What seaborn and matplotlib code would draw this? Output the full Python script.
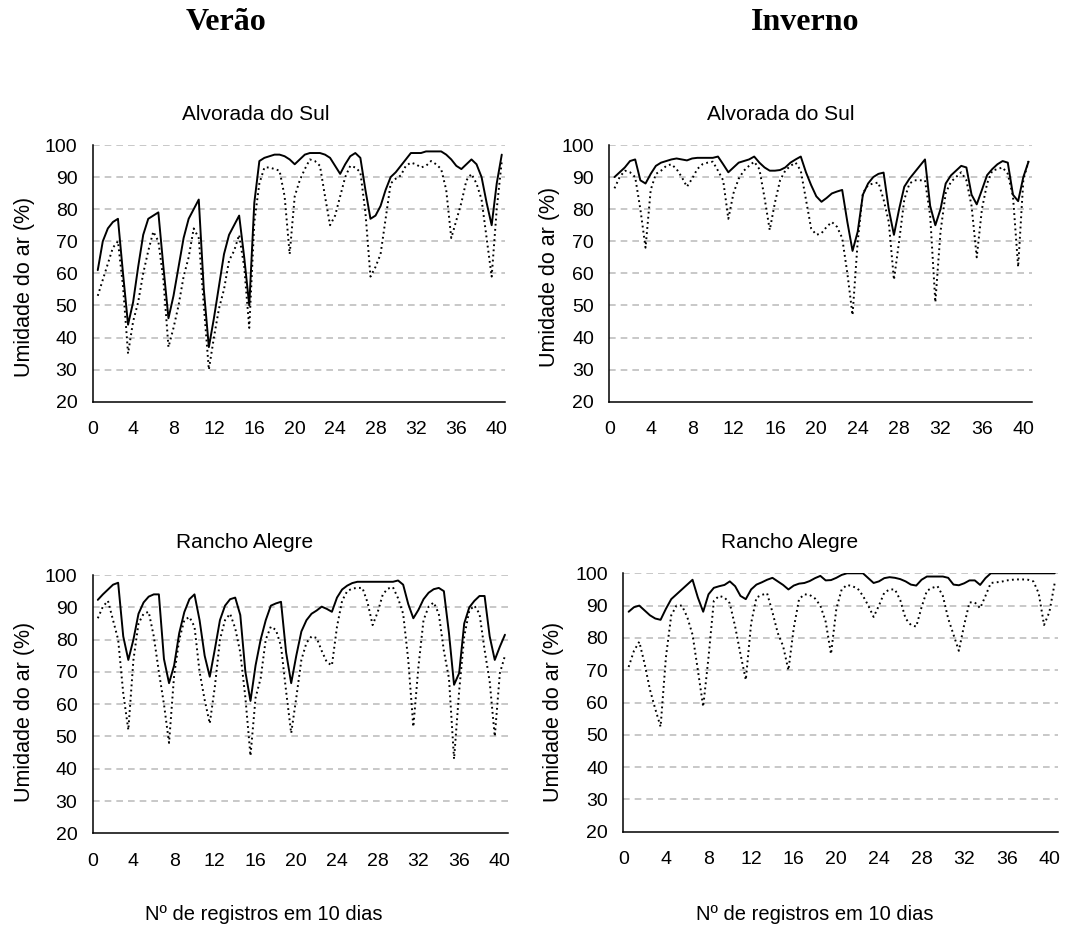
import numpy as np
import pandas as pd
import seaborn as sns
import matplotlib.pyplot as plt

sns.set_style("white")
plt.rcParams['font.family'] = ['Liberation Sans', 'DejaVu Sans']
plt.rcParams['lines.scale_dashes'] = False
plt.rcParams['text.color'] = 'black'

# registros (4 por dia, meio passo)
registros = np.arange(0.5, 40.51, 0.5)

# Verao - Alvorada do Sul
verao_alvorada_cheia = [
    61, 70, 74, 76, 77, 60, 44, 51, 62, 72,
    77, 78, 79, 62, 46, 53, 62, 71, 77, 80,
    83, 55, 37, 46, 56, 66, 72, 75, 78, 65,
    50, 82, 95, 96, 96.5, 97, 97, 96.5, 95.5, 94,
    95.5, 97, 97.5, 97.5, 97.5, 97, 96, 93.5, 91, 94,
    96.5, 97.5, 96, 86, 77, 78, 81, 86, 90, 91.5,
    93.5, 95.5, 97.5, 97.5, 97.5, 98, 98, 98, 98, 97,
    95.5, 93.5, 92.5, 94, 95.5, 94, 90, 82, 75, 88,
    97]
verao_alvorada_pont = [
    53, 58, 63, 68, 70, 56, 35, 45, 51, 60,
    67, 73, 70, 58, 37, 43, 50, 59, 65, 74,
    71, 50, 30, 40, 49, 55, 64, 67, 72, 62,
    43, 76, 88, 93, 93, 92.5, 92, 84, 66, 84,
    89, 92.5, 95.5, 95, 93.5, 84, 75, 78, 84, 90,
    93.5, 93, 91.5, 79, 59, 62, 66, 77, 88, 89.5,
    90.5, 93.5, 94.5, 94, 93, 93.5, 95, 94, 92.5, 86,
    71, 76.5, 82, 89, 91, 88, 83, 71, 59, 80,
    95]

# Inverno - Alvorada do Sul
inverno_alvorada_cheia = [
    90, 91.5, 93, 95, 95.5, 89, 88, 91, 93.5, 94.5,
    95, 95.5, 95.8, 95.5, 95.2, 95.8, 96, 96, 96, 96,
    96.4, 94, 91.5, 93, 94.5, 95, 95.5, 96.4, 94.5, 93,
    92, 92, 92.2, 93, 94.5, 95.5, 96.4, 91.5, 87.5, 84,
    82.3, 83.5, 84.9, 85.5, 86, 76, 67, 73, 84.5, 88,
    90, 91, 91.4, 80, 72, 80, 87, 89.5, 91.5, 93.5,
    95.5, 81, 75, 80, 88, 90.5, 92, 93.5, 93, 84.5,
    81.5, 86, 90.6, 92.5, 94, 95, 94.5, 84.5, 82.5, 90,
    94.8]
inverno_alvorada_pont = [
    86.5, 90, 92, 91.5, 90, 80, 68, 86, 91, 92,
    93.5, 94, 92.5, 90, 87, 89.5, 92.5, 94, 94.5, 94.8,
    92, 89, 77, 85, 89.5, 92, 93.5, 94.8, 92.5, 83.5,
    73.5, 82, 89, 92, 93.5, 94.5, 92, 83, 74, 72,
    72.5, 74.5, 76, 74.5, 71, 60, 47, 70, 85, 87.5,
    88, 88.3, 83, 76, 58, 70, 83, 88, 89, 89,
    89, 78, 51, 73, 85, 88.5, 90, 91.5, 89, 81,
    65, 80, 88, 92, 92.5, 93, 91, 84, 62, 89,
    95]

# Verao - Rancho Alegre
verao_rancho_cheia = [
    92.3, 94, 95.5, 97, 97.6, 81, 73.7, 80, 88, 91.5,
    93.3, 94, 94, 74, 66.5, 72, 82, 88.5, 92.5, 94,
    86, 75, 68.5, 77, 86, 90.5, 92.5, 93, 87.6, 70,
    61, 72, 80, 86, 90.5, 91.2, 91.7, 76, 66.5, 75,
    82.5, 86, 88, 89, 90.2, 89.5, 88.6, 93, 95.5, 96.7,
    97.5, 97.9, 97.9, 97.9, 97.9, 97.9, 97.9, 97.9, 97.9, 98.3,
    97, 91, 86.6, 89.2, 92.5, 94.5, 95.6, 96, 95, 82,
    66, 69.6, 85, 90, 92, 93.5, 93.5, 81, 73.7, 77.8,
    81.5]
verao_rancho_pont = [
    86.6, 90.2, 92, 86, 80, 63.4, 52, 73.7, 85, 88,
    88.6, 81, 70, 60, 48, 69, 80, 86, 87, 84,
    70, 61.3, 54, 65.4, 80, 86, 88, 83.5, 76, 62,
    44, 62, 68, 80, 84, 83, 78, 64, 51, 62,
    73.7, 79, 81, 80.5, 76.5, 73, 72, 84, 92, 95,
    95.8, 96, 96, 91.5, 84.5, 88.5, 94, 95.8, 96.2, 92.8,
    88, 73.7, 53, 71.6, 86, 90.2, 91.5, 88, 76.5, 68,
    43, 64, 81, 89, 90.5, 88, 76.8, 67, 50, 69.6,
    75]

# Inverno - Rancho Alegre
inverno_rancho_cheia = [
    88.1, 89.5, 90, 88.5, 87, 86, 85.6, 89, 92, 93.5,
    95, 96.5, 98, 92.5, 88.1, 93.5, 95.5, 96, 96.4, 97.5,
    96, 93, 92, 95, 96.5, 97.2, 98, 98.6, 97.5, 96.4,
    95, 96.2, 96.8, 97, 97.6, 98.5, 99.2, 97.8, 97.9, 98.6,
    99.5, 100, 100, 100, 100, 98.5, 97, 97.5, 98.5, 98.8,
    98.6, 98.2, 97.5, 96.5, 96.2, 98, 99, 99, 99, 99,
    98.6, 96.5, 96.3, 96.9, 97.8, 97.8, 96.4, 98.5, 100, 100,
    100, 100, 100, 100, 100, 100, 100, 100, 100, 100,
    100]
inverno_rancho_pont = [
    71, 76, 78.8, 72, 64, 58, 52.5, 74, 87, 90,
    90, 86.5, 81, 70, 58.7, 74, 91.5, 93, 92.5, 90.7,
    83.5, 75, 67, 84.5, 92.5, 93.3, 93.8, 88, 81.5, 77.5,
    70, 83, 92, 93.5, 93.3, 92.2, 90, 85, 75, 89,
    95, 96.4, 96, 95.3, 93, 90, 86.5, 90, 94, 95,
    95, 91.7, 86, 84, 83.5, 89.5, 94.6, 95.5, 96, 93,
    86, 81, 76, 84, 91, 91, 89.2, 93, 97, 97.2,
    97.4, 97.8, 98, 98.1, 98.1, 98, 97.5, 93.8, 84, 88,
    97]

W, H = 1071, 925
fig = plt.figure(figsize=(W / 100, H / 100), dpi=100)


def px_axes(left, right, top, bottom):
    return fig.add_axes([left / W, 1 - bottom / H, (right - left) / W, (bottom - top) / H])


paineis = [
    (px_axes(92.7, 504.8, 145, 401.7), verao_alvorada_cheia, verao_alvorada_pont),
    (px_axes(609.3, 1031.6, 145, 401.7), inverno_alvorada_cheia, inverno_alvorada_pont),
    (px_axes(92.7, 508.0, 575, 833.3), verao_rancho_cheia, verao_rancho_pont),
    (px_axes(623.3, 1057.9, 573.3, 831.7), inverno_rancho_cheia, inverno_rancho_pont),
]

for ax, cheia, pont in paineis:
    df = pd.DataFrame({"registro": registros, "cheia": cheia, "pont": pont})
    for y in range(30, 101, 10):
        ax.axhline(y, color="#c4c4c4", lw=1.3, linestyle=(0, (4.8, 3.6)), zorder=0)
    sns.lineplot(data=df, x="registro", y="pont", ax=ax, color="black",
                 lw=1.4, linestyle=(0, (1.3, 2.4)))
    sns.lineplot(data=df, x="registro", y="cheia", ax=ax, color="black", lw=1.4)
    ax.set_xlim(0, 40.8)
    ax.set_ylim(20, 100)
    ax.set_xticks(range(0, 41, 4))
    ax.set_yticks(range(20, 101, 10))
    ax.set_xlabel("")
    ax.set_ylabel("")
    for s in ["top", "right"]:
        ax.spines[s].set_visible(False)
    for s in ["left", "bottom"]:
        ax.spines[s].set_color("black")
        ax.spines[s].set_linewidth(1.1)
    ax.tick_params(axis="both", direction="out", length=5, width=1.1,
                   color="black", labelsize=14, labelcolor="black")
    ax.tick_params(axis="x", pad=9)
    ax.tick_params(axis="y", pad=6)
    ax.set_facecolor("white")

# cabecalhos das colunas
fig.text(226 / W, 1 - 22 / H, "Verão", ha="center", va="center",
         family=["Liberation Serif", "DejaVu Serif"], fontweight="bold", fontsize=23)
fig.text(805 / W, 1 - 22 / H, "Inverno", ha="center", va="center",
         family=["Liberation Serif", "DejaVu Serif"], fontweight="bold", fontsize=23)

# titulos dos paineis
fig.text(256 / W, 1 - 114 / H, "Alvorada do Sul", ha="center", va="center", fontsize=15)
fig.text(781 / W, 1 - 114 / H, "Alvorada do Sul", ha="center", va="center", fontsize=15)
fig.text(245 / W, 1 - 543 / H, "Rancho Alegre", ha="center", va="center", fontsize=15)
fig.text(790 / W, 1 - 543 / H, "Rancho Alegre", ha="center", va="center", fontsize=15)

# rotulos dos eixos
for xp, yp in [(25, 287), (550, 277), (25, 712), (553, 712)]:
    fig.text(xp / W, 1 - yp / H, "Umidade do ar (%)", rotation=90,
             ha="center", va="center", fontsize=15.5)
for xp in [264, 815]:
    fig.text(xp / W, 1 - 914 / H, "Nº de registros em 10 dias",
             ha="center", va="center", fontsize=14.5)

fig.savefig("out.png", dpi=100, facecolor="white")
